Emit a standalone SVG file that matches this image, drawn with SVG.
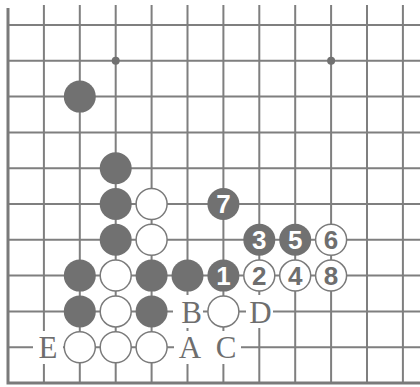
<svg xmlns="http://www.w3.org/2000/svg" width="420" height="387" viewBox="0 0 420 387">
<style>
.g{stroke:#7f7f7f;stroke-width:2;fill:none}
.e{stroke:#7a7a7a;stroke-width:3;fill:none}
.b{fill:#717171}
.w{fill:#fff;stroke:#7a7a7a;stroke-width:1.5}
.n{font-family:"Liberation Sans",Arial,sans-serif;font-weight:bold;font-size:26px;text-anchor:middle}
.nb{fill:#fff}
.nw{fill:#6e6e6e}
.l{font-family:"Liberation Serif","Times New Roman",serif;font-size:31px;fill:#6e6e6e;text-anchor:middle}
.m{fill:#fff}
</style>
<rect width="420" height="387" fill="#fff"/>
<g id="board">
<g class="g">
<path d="M43.9 5V383M79.8 5V383M115.7 5V383M151.6 5V383M187.5 5V383M223.4 5V383M259.3 5V383M295.2 5V383M331.1 5V383M367 5V383M402.9 5V383"/>
<path d="M8 25H420M8 60.8H420M8 96.6H420M8 132.4H420M8 168.2H420M8 204H420M8 239.8H420M8 275.6H420M8 311.4H420M8 347.2H420"/>
</g>
<path class="e" d="M8 8V384.5M6.5 383H420"/>
<circle cx="115.7" cy="60.8" r="4" class="b"/>
<circle cx="331.1" cy="60.8" r="4" class="b"/>
</g>
<g id="stones">
<circle id="b1" class="b" cx="79.8" cy="96.6" r="16"/>
<circle id="b2" class="b" cx="115.7" cy="168.2" r="16"/>
<circle id="b3" class="b" cx="115.7" cy="204" r="16"/>
<circle id="w1" class="w" cx="151.6" cy="204" r="15.5"/>
<circle id="b4" class="b" cx="115.7" cy="239.8" r="16"/>
<circle id="w2" class="w" cx="151.6" cy="239.8" r="15.5"/>
<circle id="b5" class="b" cx="79.8" cy="275.6" r="16"/>
<circle id="w3" class="w" cx="115.7" cy="275.6" r="15.5"/>
<circle id="b6" class="b" cx="151.6" cy="275.6" r="16"/>
<circle id="b7" class="b" cx="187.5" cy="275.6" r="16"/>
<circle id="b8" class="b" cx="79.8" cy="311.4" r="16"/>
<circle id="w4" class="w" cx="115.7" cy="311.4" r="15.5"/>
<circle id="b9" class="b" cx="151.6" cy="311.4" r="16"/>
<circle id="w5" class="w" cx="223.4" cy="311.4" r="15.5"/>
<circle id="w6" class="w" cx="79.8" cy="347.2" r="15.5"/>
<circle id="w7" class="w" cx="115.7" cy="347.2" r="15.5"/>
<circle id="w8" class="w" cx="151.6" cy="347.2" r="15.5"/>
</g>
<g id="m1"><circle class="b" cx="223.4" cy="275.6" r="16"/><text class="n nb" x="223.4" y="285">1</text></g>
<g id="m2"><circle class="w" cx="259.3" cy="275.6" r="15.5"/><text class="n nw" x="259.3" y="285">2</text></g>
<g id="m3"><circle class="b" cx="259.3" cy="239.8" r="16"/><text class="n nb" x="259.3" y="249.2">3</text></g>
<g id="m4"><circle class="w" cx="295.2" cy="275.6" r="15.5"/><text class="n nw" x="295.2" y="285">4</text></g>
<g id="m5"><circle class="b" cx="295.2" cy="239.8" r="16"/><text class="n nb" x="295.2" y="249.2">5</text></g>
<g id="m6"><circle class="w" cx="331.1" cy="239.8" r="15.5"/><text class="n nw" x="331.1" y="249.2">6</text></g>
<g id="m7"><circle class="b" cx="223.4" cy="204" r="16"/><text class="n nb" x="223.4" y="213.4">7</text></g>
<g id="m8"><circle class="w" cx="331.1" cy="275.6" r="15.5"/><text class="n nw" x="331.1" y="285">8</text></g>
<g id="labels">
<rect class="m" x="173" y="295" width="30" height="33"/>
<rect class="m" x="246" y="295" width="27" height="33"/>
<rect class="m" x="174" y="331" width="67" height="33"/>
<rect class="m" x="33" y="331" width="30" height="33"/>
<text class="l" x="191.5" y="323">B</text>
<text class="l" x="260.5" y="323">D</text>
<text class="l" x="190" y="358">A</text>
<text class="l" x="226" y="358">C</text>
<text class="l" x="48" y="358">E</text>
</g>
</svg>
